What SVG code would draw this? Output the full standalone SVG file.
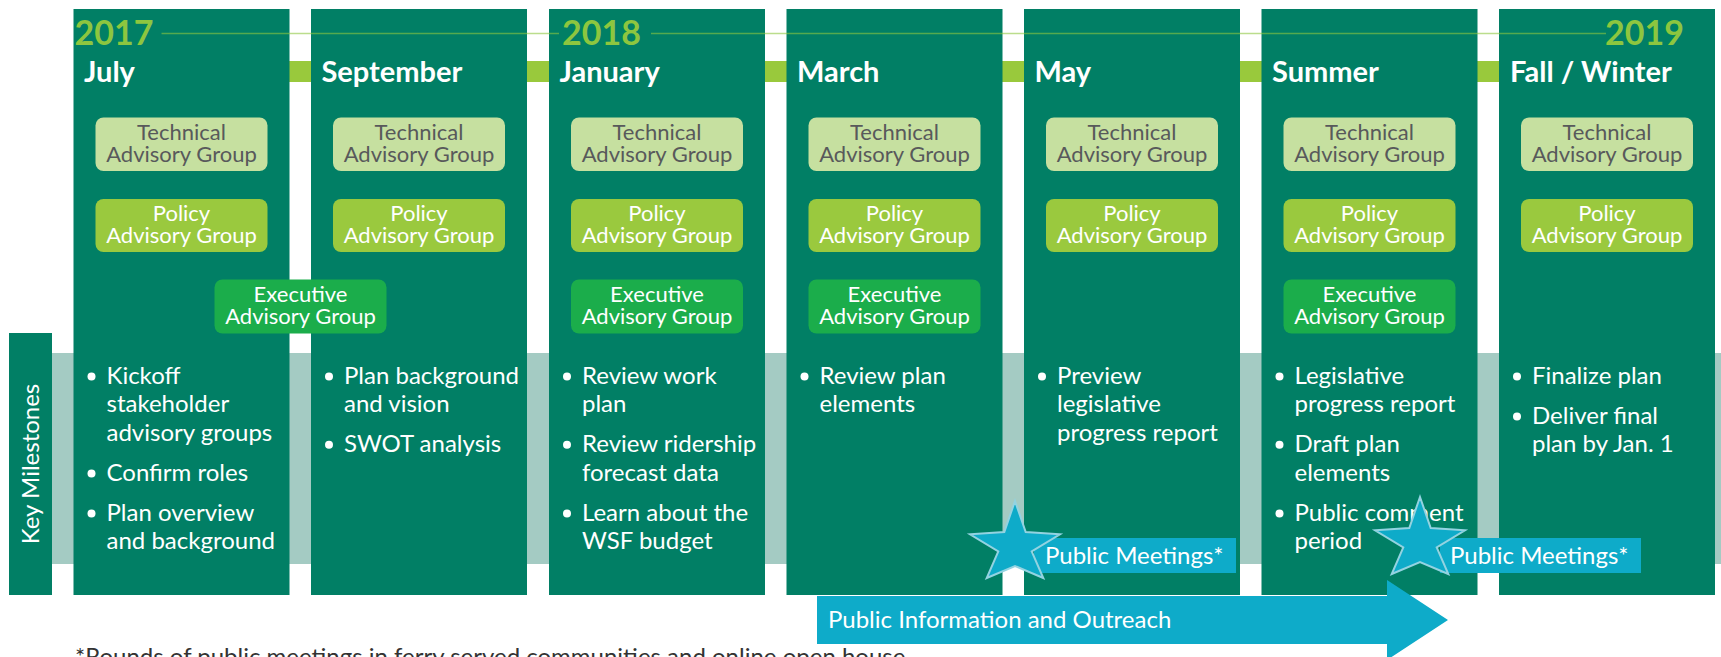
<svg xmlns="http://www.w3.org/2000/svg" xmlns:xlink="http://www.w3.org/1999/xlink" width="1721" height="657" viewBox="0 0 1721 657">
<style>
.col{fill:#017f65}
.tag{fill:#c6e0a0}
.pag{fill:#9ac93e}
.eag{fill:#1bad4b}
text{font-family:Lato,"Open Sans","Liberation Sans",sans-serif}
.bx{font-size:22px;text-anchor:middle}
.dk{fill:#58595b}
.wt{fill:#ffffff}
.mon{font-size:29px;font-weight:bold;fill:#ffffff}
.yr{font-size:34px;font-weight:bold;fill:#8dc63f}
.bul{font-size:24px;fill:#ffffff}
.dot{fill:#ffffff}
.pm{font-size:24px;fill:#ffffff}
.star{fill:#0eabc9;stroke:#93d3e1;stroke-width:2;stroke-linejoin:miter}
.cyan{fill:#0eabc9}
</style>
<defs>
<polygon id="starShape" class="star" points="0,0 10.7,31 45,33.3 16.7,50.5 28.3,77 0,65 -28.3,77 -16.7,50.5 -45,33.3 -10.7,31"/>
</defs>

<!-- background bands -->
<rect x="52" y="353" width="1669" height="211" fill="#a4cbc3"/>

<g id="connectors">
<rect x="289" y="61" width="1210" height="21" fill="#99c93c"/>
</g>

<g id="key-milestones">
<rect x="9" y="333" width="43" height="262" class="col"/>
<text transform="translate(39,464) rotate(-90)" text-anchor="middle" font-size="24" fill="#ffffff">Key Milestones</text>
</g>

<g id="col-july">
<rect class="col" x="73.5" y="9" width="216" height="586"/>
</g>
<g id="col-september">
<rect class="col" x="311" y="9" width="216" height="586"/>
</g>
<g id="col-january">
<rect class="col" x="549" y="9" width="216" height="586"/>
</g>
<g id="col-march">
<rect class="col" x="786.5" y="9" width="216" height="586"/>
</g>
<g id="col-may">
<rect class="col" x="1024" y="9" width="216" height="586"/>
</g>
<g id="col-summer">
<rect class="col" x="1261.5" y="9" width="216" height="586"/>
</g>
<g id="col-fall">
<rect class="col" x="1499" y="9" width="216" height="586"/>
</g>

<g id="timeline">
<line x1="161.5" y1="33.5" x2="559" y2="33.5" stroke="#8dc63f" stroke-opacity="0.6" stroke-width="1.3"/>
<line x1="651" y1="33.5" x2="1606" y2="33.5" stroke="#8dc63f" stroke-opacity="0.6" stroke-width="1.3"/>
<text class="yr" x="74.5" y="45">2017</text>
<text class="yr" x="562" y="45">2018</text>
<text class="yr" x="1684" y="45" text-anchor="end">2019</text>
</g>

<!-- July -->
<g id="july">
<text class="mon" x="84" y="81.5">July</text>
<rect class="tag" x="95.5" y="117.5" width="172" height="53.5" rx="8"/>
<text class="bx dk" x="181.5" y="139.5">Technical</text>
<text class="bx dk" x="181.5" y="161.5">Advisory Group</text>
<rect class="pag" x="95.5" y="199" width="172" height="53" rx="8"/>
<text class="bx wt" x="181.5" y="221">Policy</text>
<text class="bx wt" x="181.5" y="243">Advisory Group</text>
<rect class="eag" x="214.5" y="279.5" width="172" height="54" rx="8"/>
<text class="bx wt" x="300.5" y="301.5">Executive</text>
<text class="bx wt" x="300.5" y="323.5">Advisory Group</text>
<circle class="dot" cx="91.5" cy="376.5" r="4"/>
<circle class="dot" cx="91.5" cy="473.5" r="4"/>
<circle class="dot" cx="91.5" cy="513.5" r="4"/>
<text class="bul"><tspan x="106.5" y="384">Kickoff</tspan><tspan x="106.5" y="412.3">stakeholder</tspan><tspan x="106.5" y="440.7">advisory groups</tspan><tspan x="106.5" y="481">Confirm roles</tspan><tspan x="106.5" y="521">Plan overview</tspan><tspan x="106.5" y="549.3">and background</tspan></text>
</g>

<!-- September -->
<g id="september">
<text class="mon" x="321.5" y="81.5">September</text>
<rect class="tag" x="333" y="117.5" width="172" height="53.5" rx="8"/>
<text class="bx dk" x="419" y="139.5">Technical</text>
<text class="bx dk" x="419" y="161.5">Advisory Group</text>
<rect class="pag" x="333" y="199" width="172" height="53" rx="8"/>
<text class="bx wt" x="419" y="221">Policy</text>
<text class="bx wt" x="419" y="243">Advisory Group</text>
<circle class="dot" cx="329" cy="376.5" r="4"/>
<circle class="dot" cx="329" cy="444.8" r="4"/>
<text class="bul"><tspan x="344" y="384">Plan background</tspan><tspan x="344" y="412.3">and vision</tspan><tspan x="344" y="452.3">SWOT analysis</tspan></text>
</g>

<!-- January -->
<g id="january">
<text class="mon" x="559.5" y="81.5">January</text>
<rect class="tag" x="571" y="117.5" width="172" height="53.5" rx="8"/>
<text class="bx dk" x="657" y="139.5">Technical</text>
<text class="bx dk" x="657" y="161.5">Advisory Group</text>
<rect class="pag" x="571" y="199" width="172" height="53" rx="8"/>
<text class="bx wt" x="657" y="221">Policy</text>
<text class="bx wt" x="657" y="243">Advisory Group</text>
<rect class="eag" x="571" y="279.5" width="172" height="54" rx="8"/>
<text class="bx wt" x="657" y="301.5">Executive</text>
<text class="bx wt" x="657" y="323.5">Advisory Group</text>
<circle class="dot" cx="567" cy="376.5" r="4"/>
<circle class="dot" cx="567" cy="444.8" r="4"/>
<circle class="dot" cx="567" cy="513.5" r="4"/>
<text class="bul"><tspan x="582" y="384">Review work</tspan><tspan x="582" y="412.3">plan</tspan><tspan x="582" y="452.3">Review ridership</tspan><tspan x="582" y="480.7">forecast data</tspan><tspan x="582" y="521">Learn about the</tspan><tspan x="582" y="549.3">WSF budget</tspan></text>
</g>

<!-- March -->
<g id="march">
<text class="mon" x="797" y="81.5">March</text>
<rect class="tag" x="808.5" y="117.5" width="172" height="53.5" rx="8"/>
<text class="bx dk" x="894.5" y="139.5">Technical</text>
<text class="bx dk" x="894.5" y="161.5">Advisory Group</text>
<rect class="pag" x="808.5" y="199" width="172" height="53" rx="8"/>
<text class="bx wt" x="894.5" y="221">Policy</text>
<text class="bx wt" x="894.5" y="243">Advisory Group</text>
<rect class="eag" x="808.5" y="279.5" width="172" height="54" rx="8"/>
<text class="bx wt" x="894.5" y="301.5">Executive</text>
<text class="bx wt" x="894.5" y="323.5">Advisory Group</text>
<circle class="dot" cx="804.5" cy="376.5" r="4"/>
<text class="bul"><tspan x="819.5" y="384">Review plan</tspan><tspan x="819.5" y="412.3">elements</tspan></text>
</g>

<!-- May -->
<g id="may">
<text class="mon" x="1034.5" y="81.5">May</text>
<rect class="tag" x="1046" y="117.5" width="172" height="53.5" rx="8"/>
<text class="bx dk" x="1132" y="139.5">Technical</text>
<text class="bx dk" x="1132" y="161.5">Advisory Group</text>
<rect class="pag" x="1046" y="199" width="172" height="53" rx="8"/>
<text class="bx wt" x="1132" y="221">Policy</text>
<text class="bx wt" x="1132" y="243">Advisory Group</text>
<circle class="dot" cx="1042" cy="376.5" r="4"/>
<text class="bul"><tspan x="1057" y="384">Preview</tspan><tspan x="1057" y="412.3">legislative</tspan><tspan x="1057" y="440.7">progress report</tspan></text>
</g>

<!-- Summer -->
<g id="summer">
<text class="mon" x="1272" y="81.5">Summer</text>
<rect class="tag" x="1283.5" y="117.5" width="172" height="53.5" rx="8"/>
<text class="bx dk" x="1369.5" y="139.5">Technical</text>
<text class="bx dk" x="1369.5" y="161.5">Advisory Group</text>
<rect class="pag" x="1283.5" y="199" width="172" height="53" rx="8"/>
<text class="bx wt" x="1369.5" y="221">Policy</text>
<text class="bx wt" x="1369.5" y="243">Advisory Group</text>
<rect class="eag" x="1283.5" y="279.5" width="172" height="54" rx="8"/>
<text class="bx wt" x="1369.5" y="301.5">Executive</text>
<text class="bx wt" x="1369.5" y="323.5">Advisory Group</text>
<circle class="dot" cx="1279.5" cy="376.5" r="4"/>
<circle class="dot" cx="1279.5" cy="444.8" r="4"/>
<circle class="dot" cx="1279.5" cy="513.5" r="4"/>
<text class="bul"><tspan x="1294.5" y="384">Legislative</tspan><tspan x="1294.5" y="412.3">progress report</tspan><tspan x="1294.5" y="452.3">Draft plan</tspan><tspan x="1294.5" y="480.7">elements</tspan><tspan x="1294.5" y="521">Public comment</tspan><tspan x="1294.5" y="549.3">period</tspan></text>
</g>

<!-- Fall / Winter -->
<g id="fall-winter">
<text class="mon" x="1510" y="81.5">Fall / Winter</text>
<rect class="tag" x="1521" y="117.5" width="172" height="53.5" rx="8"/>
<text class="bx dk" x="1607" y="139.5">Technical</text>
<text class="bx dk" x="1607" y="161.5">Advisory Group</text>
<rect class="pag" x="1521" y="199" width="172" height="53" rx="8"/>
<text class="bx wt" x="1607" y="221">Policy</text>
<text class="bx wt" x="1607" y="243">Advisory Group</text>
<circle class="dot" cx="1517" cy="376.5" r="4"/>
<circle class="dot" cx="1517" cy="416.5" r="4"/>
<text class="bul"><tspan x="1532" y="384">Finalize plan</tspan><tspan x="1532" y="424">Deliver final</tspan><tspan x="1532" y="452.3">plan by Jan. 1</tspan></text>
</g>

<g id="public-outreach">
<polygon class="cyan" points="817,596 1387,596 1387,580 1448,620 1387,660 1387,644 817,644"/>
<text x="828" y="628" font-size="24" fill="#ffffff">Public Information and Outreach</text>
</g>

<g id="public-meetings-1">
<rect class="cyan" x="1034" y="538" width="202" height="35"/>
<use xlink:href="#starShape" href="#starShape" transform="translate(1015,501)"/>
<text class="pm" x="1045" y="564">Public Meetings*</text>
</g>

<g id="public-meetings-2">
<rect class="cyan" x="1440" y="538" width="201" height="35"/>
<use xlink:href="#starShape" href="#starShape" transform="translate(1420,497)"/>
<text class="pm" x="1450" y="564">Public Meetings*</text>
</g>

<g id="footnote">
<text x="75" y="665" font-size="24" fill="#333333">*Rounds of public meetings in ferry served communities and online open house</text>
</g>
</svg>
